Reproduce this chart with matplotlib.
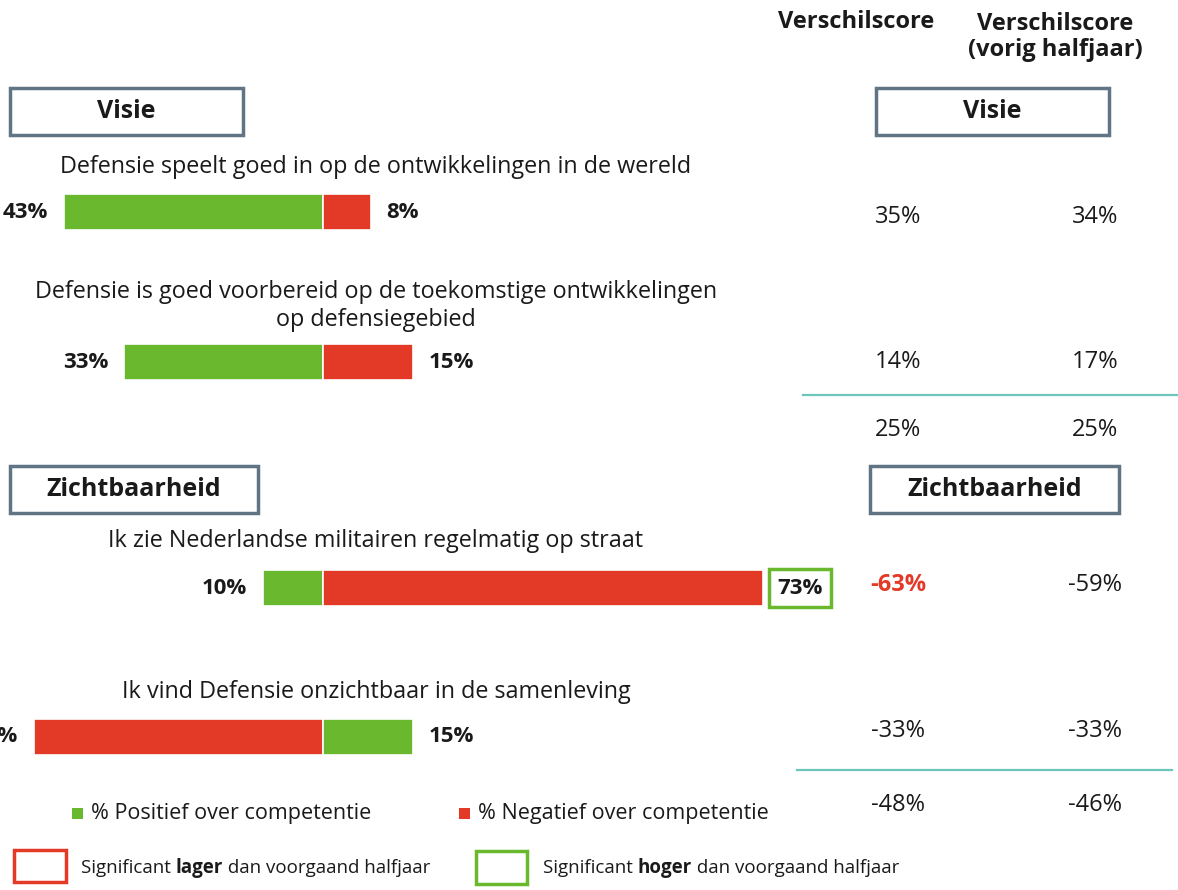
import matplotlib
matplotlib.use("Agg")
import matplotlib.pyplot as plt
from matplotlib.transforms import Affine2D
from matplotlib.patches import Rectangle

plt.rcParams['font.family'] = ['Open Sans', 'DejaVu Sans']

# ---------------- data ----------------
questions = [
    "Defensie speelt goed in op de ontwikkelingen in de wereld",
    "Defensie is goed voorbereid op de toekomstige ontwikkelingen\nop defensiegebied",
    "Ik zie Nederlandse militairen regelmatig op straat",
    "Ik vind Defensie onzichtbaar in de samenleving",
]
positive = [43, 33, 10, 15]          # % Positief over competentie
negative = [8, 15, 73, 48]           # % Negatief over competentie
negative_on_left = [False, False, False, True]
label_sig = ['', '', 'hoger', '']    # significance on the right-hand label
sections = ["Visie", "Zichtbaarheid"]
score_now = ["35%", "14%", "25%", "-63%", "-33%", "-48%"]
score_prev = ["34%", "17%", "25%", "-59%", "-33%", "-46%"]
score_sig = ['', '', '', 'lager', '', '']
col_headers = ["Verschilscore", "Verschilscore\n(vorig halfjaar)"]
legend_labels = ["% Positief over competentie", "% Negatief over competentie"]

GREEN = '#6ab82e'
RED = '#e33a28'
SLATE = '#617484'
TEAL = '#6cc6b9'
TXT = '#1a1a1a'

W, H = 1178, 890
fig = plt.figure(figsize=(W / 100, H / 100), dpi=100)
fig.patch.set_facecolor('white')
PX = Affine2D().scale(1 / W, -1 / H).translate(0, 1) + fig.transFigure

# bar axes: x in percent, centre at pixel 323, ~6.03 px per %
CX, SCALE = 323, 6.03
ax = fig.add_axes([0, 0, 1, 1])
ax.set_xlim(-CX / SCALE, (W - CX) / SCALE)
ax.set_ylim(H, 0)
ax.axis('off')

row_y = [212, 362, 588, 737]      # layout: row centres in pixels
q_y = [167, 306, 541, 692]
BAR_H = 36

for i in range(4):
    if negative_on_left[i]:
        lv, lc, rv, rc = negative[i], RED, positive[i], GREEN
    else:
        lv, lc, rv, rc = positive[i], GREEN, negative[i], RED
    ax.barh(row_y[i], -lv, left=0, height=BAR_H, color=lc, edgecolor='white', linewidth=1.2)
    ax.barh(row_y[i], rv, left=0, height=BAR_H, color=rc, edgecolor='white', linewidth=1.2)
    ax.annotate(f"{lv}%", xy=(-lv, row_y[i]), xytext=(-16, 0), textcoords='offset pixels',
                ha='right', va='center', fontsize=16, fontweight='bold', color=TXT)
    kw = {}
    off = 15
    if label_sig[i] in ('hoger', 'lager'):
        kw['bbox'] = dict(boxstyle='square,pad=0.38', fc='none',
                          ec=GREEN if label_sig[i] == 'hoger' else RED, lw=2.5)
        off = 14
    ax.annotate(f"{rv}%", xy=(rv, row_y[i]), xytext=(off, 0), textcoords='offset pixels',
                ha='left', va='center', fontsize=16, fontweight='bold', color=TXT, **kw)
    fig.text(376, q_y[i], questions[i], transform=PX, ha='center', va='center',
             fontsize=16.8, color=TXT, linespacing=1.2)

# section boxes
box_specs = [(10, 88, 233, 47, 0), (876, 88, 233, 47, 0),
             (10, 466, 248, 47, 1), (870, 466, 249, 47, 1)]
for x0, y0, w, h, s in box_specs:
    fig.patches.append(Rectangle((x0, y0 + h), w, -h, transform=PX, fill=False,
                                 ec=SLATE, lw=2.5))
    fig.text(x0 + w / 2, y0 + h / 2, sections[s], transform=PX, ha='center', va='center',
             fontsize=18, fontweight='bold', color=TXT)

# column headers
fig.text(856, 22, col_headers[0], transform=PX, ha='center', va='center',
         fontsize=17, fontweight='bold', color=TXT)
fig.text(1055, 37, col_headers[1], transform=PX, ha='center', va='center',
         fontsize=17, fontweight='bold', color=TXT, linespacing=1.12)

# scores
score_y = [217, 362, 430, 585, 731, 805]
for j in range(6):
    if score_sig[j] == 'lager':
        fig.text(898, score_y[j], score_now[j], transform=PX, ha='center', va='center',
                 fontsize=17, fontweight='bold', color=RED)
    else:
        fig.text(898, score_y[j], score_now[j], transform=PX, ha='center', va='center',
                 fontsize=17, color=TXT)
    fig.text(1095, score_y[j], score_prev[j], transform=PX, ha='center', va='center',
             fontsize=17, color=TXT)

# teal separator lines
for (xa, xb, yy) in [(803, 1178, 395), (797, 1172, 770)]:
    fig.lines.append(plt.Line2D([xa, xb], [yy, yy], transform=PX, color=TEAL, lw=1.6))

# legend
for (sx, col, lab) in [(72, GREEN, legend_labels[0]), (459, RED, legend_labels[1])]:
    fig.patches.append(Rectangle((sx, 819), 11, -11, transform=PX, fc=col, ec='none'))
    fig.text(sx + 19, 813, lab, transform=PX, ha='left', va='center', fontsize=15.5, color=TXT)

# significance legend
fig.canvas.draw()
renderer = fig.canvas.get_renderer()


def mixed(x, y, parts):
    for txt, bold in parts:
        t = fig.text(x, y, txt, transform=PX, ha='left', va='center', fontsize=13.5,
                     fontweight='bold' if bold else 'normal', color=TXT)
        bb = t.get_window_extent(renderer)
        x += bb.width


fig.patches.append(Rectangle((14, 882), 52, -32, transform=PX, fill=False, ec=RED, lw=2.5))
mixed(81, 868, [("Significant ", False), ("lager", True), (" dan voorgaand halfjaar", False)])
fig.patches.append(Rectangle((476, 884), 51, -33, transform=PX, fill=False, ec=GREEN, lw=2.5))
mixed(543, 868, [("Significant ", False), ("hoger", True), (" dan voorgaand halfjaar", False)])

fig.savefig("out.png", dpi=100, facecolor='white')
